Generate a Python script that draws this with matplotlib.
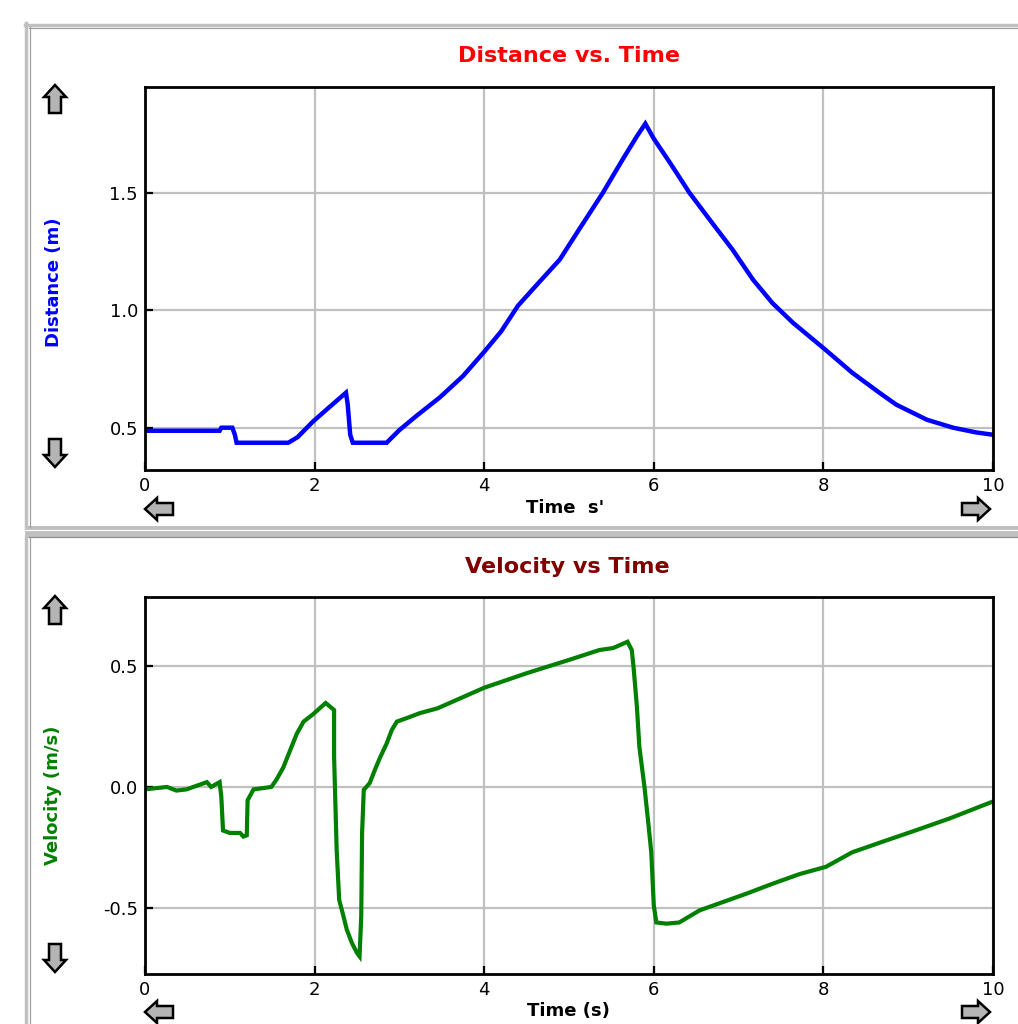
import matplotlib
matplotlib.use("Agg")
import matplotlib.pyplot as plt
from matplotlib.patches import Polygon, Rectangle
from matplotlib.lines import Line2D

W, H = 1018, 1024

# ---------------- data ----------------
dist_t = [0.0, 0.88, 0.90, 1.03, 1.06, 1.08, 1.69, 1.80, 1.98, 2.15, 2.37, 2.39, 2.42, 2.45,
          2.85, 3.0, 3.2, 3.48, 3.75, 4.0, 4.2, 4.4, 4.65, 4.89, 5.13, 5.40, 5.63, 5.80, 5.90,
          6.0, 6.19, 6.42, 6.66, 6.93, 7.17, 7.40, 7.64, 8.03, 8.34, 8.66, 8.86, 9.22, 9.53,
          9.8, 10.0]
dist_m = [0.487, 0.487, 0.50, 0.50, 0.47, 0.436, 0.436, 0.46, 0.526, 0.58, 0.649, 0.60, 0.47,
          0.436, 0.436, 0.49, 0.55, 0.63, 0.72, 0.823, 0.91, 1.02, 1.12, 1.215, 1.35, 1.50,
          1.64, 1.74, 1.794, 1.73, 1.628, 1.50, 1.385, 1.257, 1.13, 1.03, 0.947, 0.83, 0.734,
          0.649, 0.598, 0.534, 0.50, 0.48, 0.47]

vel_t = [0.0, 0.26, 0.37, 0.49, 0.57, 0.73, 0.78, 0.88, 0.90, 0.92, 1.0, 1.12, 1.16, 1.20,
         1.21, 1.28, 1.49, 1.55, 1.63, 1.71, 1.79, 1.87, 1.98, 2.06, 2.13, 2.23, 2.23, 2.26,
         2.29, 2.33, 2.38, 2.44, 2.50, 2.53, 2.55, 2.56, 2.58, 2.65, 2.71, 2.77, 2.85, 2.91,
         2.97, 3.09, 3.24, 3.45, 4.0, 4.5, 5.0, 5.36, 5.52, 5.69, 5.74, 5.76, 5.80, 5.83,
         5.89, 5.94, 5.97, 6.0, 6.03, 6.15, 6.30, 6.54, 6.78, 7.10, 7.40, 7.72, 8.03, 8.34,
         8.70, 9.10, 9.49, 10.0]
vel_v = [-0.01, 0.0, -0.015, -0.01, 0.0, 0.02, 0.0, 0.02, -0.04, -0.18, -0.19, -0.19, -0.205,
         -0.2, -0.055, -0.01, 0.0, 0.03, 0.08, 0.15, 0.22, 0.27, 0.30, 0.325, 0.347, 0.318,
         0.124, -0.26, -0.467, -0.52, -0.59, -0.645, -0.686, -0.70, -0.535, -0.19, -0.012,
         0.016, 0.07, 0.12, 0.18, 0.235, 0.27, 0.285, 0.305, 0.325, 0.41, 0.47, 0.525, 0.566,
         0.574, 0.60, 0.566, 0.50, 0.335, 0.165, 0.0, -0.165, -0.27, -0.49, -0.56, -0.565,
         -0.56, -0.51, -0.48, -0.44, -0.40, -0.36, -0.33, -0.27, -0.226, -0.178, -0.13, -0.06]

x_ticks = [0, 2, 4, 6, 8, 10]
dist_ticks = [0.5, 1.0, 1.5]
vel_ticks = [-0.5, 0.0, 0.5]

# ---------------- figure ----------------
fig = plt.figure(figsize=(W / 100, H / 100), dpi=100)
fig.patch.set_facecolor("white")


def fx(x):
    return x / W


def fy(y):
    return 1 - y / H


def hline(y, x0, x1, color, lw):
    fig.add_artist(Line2D([fx(x0), fx(x1)], [fy(y), fy(y)], color=color, lw=lw,
                          transform=fig.transFigure))


def vline(x, y0, y1, color, lw):
    fig.add_artist(Line2D([fx(x), fx(x)], [fy(y0), fy(y1)], color=color, lw=lw,
                          transform=fig.transFigure))


# top panel border
hline(24.5, 25, 1018, "#c0c0c0", 2.5)
hline(27.5, 29, 1018, "#a0a0a0", 0.9)
vline(26, 23, 527, "#c0c0c0", 2.5)
vline(29.5, 27, 527, "#a0a0a0", 0.9)
# separator band
fig.add_artist(Rectangle((fx(25), fy(538)), fx(1018) - fx(25), (538 - 526) / H,
                         transform=fig.transFigure, facecolor="#c0c0c0", edgecolor="none"))
hline(530, 25, 1018, "white", 0.8)
hline(537, 29, 1018, "#909090", 0.9)
# bottom panel left border
vline(26, 538, 1024, "#c0c0c0", 2.5)
vline(29.5, 538, 1024, "#a0a0a0", 0.9)


def make_axes(top, bottom):
    left, right = 145, 993
    ax = fig.add_axes([fx(left), fy(bottom), (right - left) / W, (bottom - top) / H])
    for s in ax.spines.values():
        s.set_linewidth(2.0)
        s.set_color("black")
    ax.grid(True, color="#c0c0c0", lw=1.6)
    ax.set_axisbelow(True)
    ax.tick_params(direction="in", length=6, width=1.6, labelsize=13, pad=5,
                   colors="black")
    ax.set_xlim(0, 10)
    ax.set_xticks(x_ticks)
    return ax


# ---- distance ----
ax1 = make_axes(87, 470)
ax1.plot(dist_t, dist_m, color="#0000ff", lw=3.2, solid_joinstyle="miter")
ax1.set_ylim(0.32, 1.95)
ax1.set_yticks(dist_ticks)
ax1.set_yticklabels(["%.1f" % v for v in dist_ticks])

# ---- velocity ----
ax2 = make_axes(597, 974)
ax2.plot(vel_t, vel_v, color="#008000", lw=3.0, solid_joinstyle="miter")
ax2.set_ylim(-0.773, 0.785)
ax2.set_yticks(vel_ticks)
ax2.set_yticklabels(["%.1f" % v for v in vel_ticks])

# titles and labels
fig.text(fx(569), fy(56), "Distance vs. Time", color="#ff0000", fontsize=16,
         fontweight="bold", ha="center", va="center")
fig.text(fx(567), fy(567), "Velocity vs Time", color="#800000", fontsize=16,
         fontweight="bold", ha="center", va="center")
fig.text(fx(54), fy(282), "Distance (m)", color="#0000ff", fontsize=13,
         fontweight="bold", ha="center", va="center", rotation=90)
fig.text(fx(53), fy(795), "Velocity (m/s)", color="#008000", fontsize=13,
         fontweight="bold", ha="center", va="center", rotation=90)
fig.text(fx(565), fy(508), "Time  s'", color="black", fontsize=13,
         fontweight="bold", ha="center", va="center")
fig.text(fx(568), fy(1011), "Time (s)", color="black", fontsize=13,
         fontweight="bold", ha="center", va="center")


# block arrows
def arrow(cx, cy, direction):
    pts = [(0, -14), (11, -2), (6, -2), (6, 14), (-6, 14), (-6, -2), (-11, -2)]
    out = []
    for dx, dy in pts:
        if direction == "down":
            dx, dy = dx, -dy
        elif direction == "left":
            dx, dy = dy, dx
        elif direction == "right":
            dx, dy = -dy, dx
        out.append((fx(cx + dx), fy(cy + dy)))
    fig.add_artist(Polygon(out, closed=True, transform=fig.transFigure,
                           facecolor="#b4b4b4", edgecolor="black", lw=1.8,
                           joinstyle="miter"))


for (ytop, ydown, yx) in [(99, 453, 509), (610, 958, 1012)]:
    arrow(55, ytop, "up")
    arrow(55, ydown, "down")
    arrow(159, yx, "left")
    arrow(976, yx, "right")

fig.savefig("out.png", dpi=100, facecolor="white")
